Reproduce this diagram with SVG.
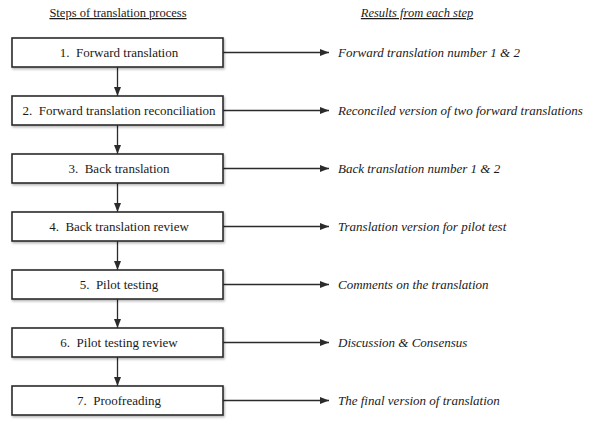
<svg xmlns="http://www.w3.org/2000/svg" width="590" height="425" viewBox="0 0 590 425">
<defs>
<marker id="ah" markerWidth="9" markerHeight="7" refX="9" refY="3.5" orient="auto" markerUnits="userSpaceOnUse">
<path d="M0,0 L9,3.5 L0,7 Z" fill="#2b2b2b"/>
</marker>
<filter id="sh" x="-5%" y="-20%" width="110%" height="150%">
<feDropShadow dx="1" dy="1.5" stdDeviation="0.8" flood-color="#000" flood-opacity="0.3"/>
</filter>
</defs>
<style>
.box{fill:#fff;stroke:#2b2b2b;stroke-width:1.6;filter:url(#sh)}
.lbl{font-family:"Liberation Serif","Times New Roman",serif;font-size:13px;fill:#1a1a1a;text-anchor:middle}
.res{font-family:"Liberation Serif","Times New Roman",serif;font-size:13px;font-style:italic;fill:#1a1a1a}
.hd{font-family:"Liberation Serif","Times New Roman",serif;font-size:12.5px;fill:#1a1a1a;text-anchor:middle;text-decoration:underline}
.con{stroke:#2b2b2b;stroke-width:1.3;fill:none;marker-end:url(#ah)}
</style>
<rect width="590" height="425" fill="#fff"/>
<text class="hd" x="118" y="17">Steps of translation process</text>
<text class="hd" x="417" y="17" font-style="italic">Results from each step</text>

<g id="connectors">
<line class="con" x1="117.5" y1="67" x2="117.5" y2="96"/>
<line class="con" x1="117.5" y1="125" x2="117.5" y2="154"/>
<line class="con" x1="117.5" y1="183" x2="117.5" y2="212"/>
<line class="con" x1="117.5" y1="241" x2="117.5" y2="270"/>
<line class="con" x1="117.5" y1="299" x2="117.5" y2="328"/>
<line class="con" x1="117.5" y1="357" x2="117.5" y2="386"/>
<line class="con" x1="223" y1="52.5" x2="329" y2="52.5"/>
<line class="con" x1="223" y1="110.5" x2="329" y2="110.5"/>
<line class="con" x1="223" y1="168.5" x2="329" y2="168.5"/>
<line class="con" x1="223" y1="226.5" x2="329" y2="226.5"/>
<line class="con" x1="223" y1="284.5" x2="329" y2="284.5"/>
<line class="con" x1="223" y1="342.5" x2="329" y2="342.5"/>
<line class="con" x1="223" y1="400.5" x2="329" y2="400.5"/>
</g>

<g id="step1"><rect class="box" x="12" y="38" width="211" height="29"/><text class="lbl" x="119" y="57">1.&#160; Forward translation</text></g>
<g id="step2"><rect class="box" x="12" y="96" width="211" height="29"/><text class="lbl" x="119" y="115">2.&#160; Forward translation reconciliation</text></g>
<g id="step3"><rect class="box" x="12" y="154" width="211" height="29"/><text class="lbl" x="119" y="173">3.&#160; Back translation</text></g>
<g id="step4"><rect class="box" x="12" y="212" width="211" height="29"/><text class="lbl" x="119" y="231">4.&#160; Back translation review</text></g>
<g id="step5"><rect class="box" x="12" y="270" width="211" height="29"/><text class="lbl" x="119" y="289">5.&#160; Pilot testing</text></g>
<g id="step6"><rect class="box" x="12" y="328" width="211" height="29"/><text class="lbl" x="119" y="347">6.&#160; Pilot testing review</text></g>
<g id="step7"><rect class="box" x="12" y="386" width="211" height="29"/><text class="lbl" x="119" y="405">7.&#160; Proofreading</text></g>

<g id="result1"><text class="res" x="338" y="57">Forward translation number 1 &amp; 2</text></g>
<g id="result2"><text class="res" x="338" y="115">Reconciled version of two forward translations</text></g>
<g id="result3"><text class="res" x="338" y="173">Back translation number 1 &amp; 2</text></g>
<g id="result4"><text class="res" x="338" y="231">Translation version for pilot test</text></g>
<g id="result5"><text class="res" x="338" y="289">Comments on the translation</text></g>
<g id="result6"><text class="res" x="338" y="347">Discussion &amp; Consensus</text></g>
<g id="result7"><text class="res" x="338" y="405">The final version of translation</text></g>
</svg>
